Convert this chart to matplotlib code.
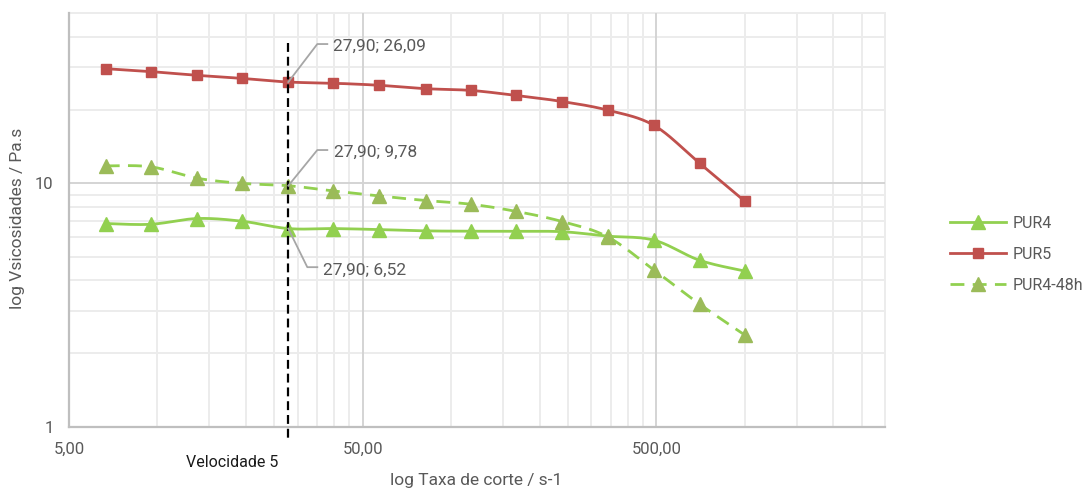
import numpy as np
import matplotlib
matplotlib.use("Agg")
import matplotlib.pyplot as plt
from matplotlib.ticker import FixedLocator, FuncFormatter, NullFormatter
from matplotlib.lines import Line2D
from matplotlib.transforms import blended_transform_factory

plt.rcParams['font.family'] = ['Roboto', 'DejaVu Sans']

# Shear rate (s-1) and viscosity (Pa.s)
shear_rate = [6.67, 9.49, 13.66, 19.42, 27.90, 39.7, 56.9, 82.0, 116.6, 165.7,
              238.7, 341.0, 491.0, 701.0, 1000.0]
pur4 = [6.84, 6.79, 7.17, 6.99, 6.52, 6.52, 6.46, 6.38, 6.36, 6.35,
        6.33, 6.07, 5.84, 4.83, 4.36]
pur5 = [29.6, 28.8, 27.8, 27.0, 26.09, 25.8, 25.3, 24.5, 24.1, 23.0,
        21.7, 20.0, 17.3, 12.1, 8.44]
pur4_48h = [11.8, 11.7, 10.5, 10.0, 9.78, 9.31, 8.88, 8.50, 8.21, 7.68,
            6.97, 6.03, 4.40, 3.19, 2.38]

speed5_rate = 27.90
x_major = [5, 50, 500]
y_major = [1, 10]

W, H = 1089, 491
TXT = '#595959'


def smooth(xs, ys, n=20):
    """Catmull-Rom curve through the points in log-log space."""
    lx = np.log10(xs)
    ly = np.log10(ys)
    px = np.concatenate([[lx[0]], lx, [lx[-1]]])
    py = np.concatenate([[ly[0]], ly, [ly[-1]]])
    outx, outy = [], []
    for i in range(1, len(px) - 2):
        p0, p1, p2, p3 = px[i - 1], px[i], px[i + 1], px[i + 2]
        q0, q1, q2, q3 = py[i - 1], py[i], py[i + 1], py[i + 2]
        t = np.linspace(0, 1, n, endpoint=False)
        h00 = 2 * t**3 - 3 * t**2 + 1
        h10 = t**3 - 2 * t**2 + t
        h01 = -2 * t**3 + 3 * t**2
        h11 = t**3 - t**2
        mx1, mx2 = (p2 - p0) / 2, (p3 - p1) / 2
        my1, my2 = (q2 - q0) / 2, (q3 - q1) / 2
        outx.extend(h00 * p1 + h10 * mx1 + h01 * p2 + h11 * mx2)
        outy.extend(h00 * q1 + h10 * my1 + h01 * q2 + h11 * my2)
    outx.append(lx[-1])
    outy.append(ly[-1])
    marks = list(range(0, len(outx) - 1, n)) + [len(outx) - 1]
    return 10 ** np.array(outx), 10 ** np.array(outy), marks


fig = plt.figure(figsize=(W / 100, H / 100), dpi=100)
ax = fig.add_axes([69 / W, 1 - 426.7 / H, (885 - 69) / W, (426.7 - 13.3) / H])
ax.set_xscale('log')
ax.set_yscale('log')
ax.set_xlim(5, 3000)
ax.set_ylim(1, 50)

# grid
minor_x = list(range(10, 50, 5)) + list(range(100, 500, 50)) + list(range(1000, 3001, 500))
minor_y = list(range(2, 10)) + [20, 30, 40, 50]
for v in minor_x:
    ax.axvline(v, color='#ececec', lw=1.4, zorder=0, clip_on=False)
for v in minor_y:
    ax.axhline(v, color='#ececec', lw=1.4, zorder=0, clip_on=False)
for v in x_major[1:]:
    ax.axvline(v, color='#d4d4d4', lw=1.4, zorder=0.5)
for v in y_major[1:]:
    ax.axhline(v, color='#d4d4d4', lw=1.4, zorder=0.5)

for s in ['top', 'right']:
    ax.spines[s].set_visible(False)
for s in ['left', 'bottom']:
    ax.spines[s].set_color('#bfbfbf')
    ax.spines[s].set_linewidth(1.6)

ax.xaxis.set_major_locator(FixedLocator(x_major))
ax.xaxis.set_minor_locator(FixedLocator([]))
ax.yaxis.set_major_locator(FixedLocator(y_major))
ax.yaxis.set_minor_locator(FixedLocator([]))
ax.xaxis.set_major_formatter(FuncFormatter(lambda v, p: f"{v:.2f}".replace('.', ',')))
ax.yaxis.set_major_formatter(FuncFormatter(lambda v, p: f"{v:g}"))
ax.xaxis.set_minor_formatter(NullFormatter())
ax.yaxis.set_minor_formatter(NullFormatter())
ax.tick_params(axis='both', length=0, labelsize=12, labelcolor=TXT)
ax.tick_params(axis='x', pad=11)
ax.tick_params(axis='y', pad=11)

# series
green = '#92D050'
red = '#C0504D'
olive = '#9BBB59'

sx, sy, mk = smooth(shear_rate, pur4)
ax.plot(sx, sy, color=green, lw=2.0, marker='^', markevery=mk, ms=9.5,
        mfc=green, mec=green, label='PUR4', zorder=3)
sx, sy, mk = smooth(shear_rate, pur5)
ax.plot(sx, sy, color=red, lw=2.0, marker='s', markevery=mk, ms=7.8,
        mfc=red, mec=red, label='PUR5', zorder=3)
sx, sy, mk = smooth(shear_rate, pur4_48h)
ax.plot(sx, sy, color=green, lw=2.0, dashes=(5, 3), marker='^', markevery=mk, ms=9.5,
        mfc=olive, mec=olive, label='PUR4-48h', zorder=3)

# vertical marker at speed 5
trans = blended_transform_factory(ax.transData, ax.transAxes)
ax.plot([speed5_rate, speed5_rate], [0.927, -0.032], transform=trans, color='black',
        lw=1.6, dashes=(4, 2.2), clip_on=False, zorder=4)
fig.text(232 / W, 1 - 462.7 / H, 'Velocidade 5', ha='center', va='center',
         fontsize=11.5, color='#1a1a1a')

# data labels with leader lines (pixel offsets from the point)
labels = [
    (pur5[4], [(0, 0), (29, 38), (39, 38)], (45, 36)),
    (pur4_48h[4], [(0, 0), (29, 35.7), (39, 35.7)], (45.3, 33.7)),
    (pur4[4], [(0, 0), (19, -38.6), (29, -38.6)], (34.6, -41.3)),
]
for val, path, toff in labels:
    px, py = ax.transData.transform((speed5_rate, val))
    xs = [px + dx for dx, dy in path]
    ys = [py + dy for dx, dy in path]
    fig.add_artist(Line2D(xs, ys, transform=None, color='#a6a6a6', lw=1.3, zorder=5))
    txt = f"{speed5_rate:.2f}; {val:.2f}".replace('.', ',')
    fig.text((px + toff[0]) / W, (py + toff[1]) / H, txt, ha='left', va='center',
             fontsize=12.5, color=TXT)

# axis titles
fig.text(475.7 / W, 1 - 481 / H, 'log Taxa de corte / s-1', ha='center', va='center',
         fontsize=12.5, color=TXT)
fig.text(18 / W, 1 - 218 / H, 'log Vsicosidades / Pa.s', ha='center', va='center',
         rotation=90, fontsize=12.5, color=TXT)

# legend
fig.legend(loc='center left', bbox_to_anchor=(950 / W, 1 - 254.2 / H), frameon=False,
           fontsize=11.5, labelcolor=TXT, handlelength=3.5, handletextpad=0.4,
           labelspacing=1.0, borderpad=0, borderaxespad=0)

fig.savefig('out.png', dpi=100)
